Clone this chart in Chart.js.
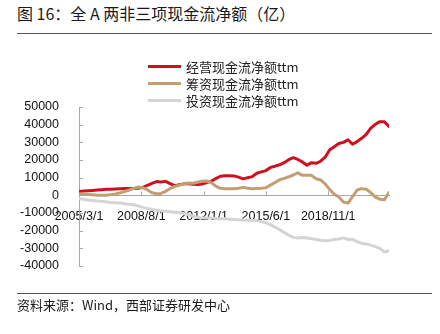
<!DOCTYPE html>
<html>
<head>
<meta charset="utf-8">
<script src="https://cdn.jsdelivr.net/npm/chart.js@4.4.1/dist/chart.umd.min.js"></script>
<style>
    body { margin: 0; background: #fff; }
    #wrap { position: relative; width: 440px; height: 334px; background: #fff; overflow: hidden; }
    #chart { position: absolute; left: 0; top: 0; }
    .title { position: absolute; left: 17px; top: 3px; font: 16px "Noto Sans CJK SC", sans-serif; line-height: 20px; color: #1a1a1a; white-space: nowrap; }
    .rule { position: absolute; left: 17px; width: 415px; height: 1px; background: #555; }
    .source { position: absolute; left: 17px; top: 297px; font: 13px "Noto Sans CJK SC", sans-serif; line-height: 16px; color: #1a1a1a; white-space: nowrap; }
    #legend { position: absolute; left: 148px; top: 58px; font: 13px "Noto Sans CJK SC", sans-serif; color: #222; }
    #legend .item { height: 17px; line-height: 17px; display: flex; align-items: center; white-space: nowrap; }
    #legend .swatch { width: 33px; height: 3px; margin-right: 5px; }
</style>
</head>
<body>
<div id="wrap">
    <div class="title">图 16：全 A 两非三项现金流净额（亿）</div>
    <div class="rule" style="top:33px"></div>
    <canvas id="chart" width="440" height="334"></canvas>
    <div id="legend"></div>
    <div class="rule" style="top:293px"></div>
    <div class="source">资料来源：Wind，西部证券研发中心</div>
</div>
<script>
// 季度数据，起点 2005/3
const startYear = 2005;
const startMonth = 3;
const dates = Array.from({ length: 69 }, (_, i) => {
    const m = startMonth - 1 + i * 3;
    return `${startYear + Math.floor(m / 12)}/${(m % 12) + 1}/1`;
});

const xTickLabels = ['2005/3/1', '2008/8/1', '2012/1/1', '2015/6/1', '2018/11/1'];
const yTicks = { min: -40000, max: 50000, step: 10000 };

const seriesNames = ['经营现金流净额ttm', '筹资现金流净额ttm', '投资现金流净额ttm'];
const seriesColors = ['#d0101e', '#c29e72', '#d4d4d4'];

const operating = [
    2200, 2400, 2600, 2800, 3000, 3200, 3400, 3500, 3600, 3700,
    3800, 3800, 3900, 4000, 4500, 5700, 6800, 7800, 7600, 7900,
    6600, 5500, 6000, 6500, 6600, 6300, 6200, 6400, 7200, 7900,
    9500, 10800, 11100, 11100, 11000, 10300, 9300, 10000, 10600, 12500,
    13300, 14000, 15800, 16500, 17300, 18500, 20200, 21400, 20300, 18900,
    17000, 18500, 18100, 19300, 21600, 25800, 27500, 29300, 30000, 31500,
    28900, 30400, 32300, 34500, 38000, 40200, 41700, 41600, 39000,
];
const financing = [
    800, 700, 500, 300, 100, 0, 100, 400, 800, 1400,
    2200, 3000, 3900, 4700, 4300, 3200, 1500, 900, 1100, 2300,
    3900, 5000, 5800, 6400, 7000, 6800, 7400, 8000, 8100, 7200,
    5200, 4000, 3700, 3700, 3700, 4000, 4500, 4000, 3700, 3900,
    4000, 4300, 5800, 7300, 8800, 9600, 10500, 11500, 12800, 11300,
    11400, 11300, 9400, 8700, 6500, 3200, 600, -1000, -3800, -4400,
    -800, 3000, 3800, 3500, 1500, -1000, -2200, -2500, 1600,
];
const investing = [
    -1900, -2200, -2600, -2900, -3200, -3400, -3700, -4000, -4200, -4400,
    -4700, -5000, -5300, -6000, -6800, -7500, -8000, -8400, -8800, -9000,
    -9300, -9600, -9900, -10200, -11000, -11800, -12400, -12900, -12800, -12900,
    -13100, -13200, -13300, -13500, -13700, -13800, -13900, -14100, -14200, -14300,
    -14800, -15500, -16600, -18000, -19400, -21000, -22500, -23800, -24100, -23900,
    -24200, -24600, -25000, -25400, -25700, -25500, -25000, -24700, -24100, -25000,
    -24900, -26200, -27200, -27500, -28200, -29000, -30000, -32100, -31400,
];

// 日期 -> 距起点的月数，横轴按月线性排布
function monthIndex(label) {
    const [y, m] = label.split('/').map(Number);
    return (y - startYear) * 12 + (m - startMonth);
}

const xTickMonths = xTickLabels.map(monthIndex);
const toPoints = (values) => values.map((v, i) => ({ x: monthIndex(dates[i]), y: v }));

const axisColor = '#a8a8a8';
const tickFont = { family: '"Liberation Sans", Arial, sans-serif', size: 12.5 };

// 刻度线画在轴线内侧
const innerTicks = {
    id: 'innerTicks',
    afterDraw(chart) {
        const { ctx, scales: { x, y } } = chart;
        const y0 = y.getPixelForValue(0);
        ctx.save();
        ctx.strokeStyle = axisColor;
        ctx.lineWidth = 1;
        ctx.beginPath();
        xTickMonths.forEach((m) => {
            if (m === x.min) return;
            const px = Math.round(x.getPixelForValue(m)) + 0.5;
            ctx.moveTo(px, y0);
            ctx.lineTo(px, y0 - 4);
        });
        y.ticks.forEach((t) => {
            const py = Math.round(y.getPixelForValue(t.value)) + 0.5;
            ctx.moveTo(x.left, py);
            ctx.lineTo(x.left + 4, py);
        });
        ctx.stroke();
        ctx.restore();
    },
};

const datasets = [operating, financing, investing].map((values, i) => ({
    label: seriesNames[i],
    data: toPoints(values),
    borderColor: seriesColors[i],
    backgroundColor: seriesColors[i],
    borderWidth: 3,
    pointRadius: 0,
    borderJoinStyle: 'round',
    borderCapStyle: 'round',
    order: 3 - i,
}));

const chart = new Chart(document.getElementById('chart'), {
    type: 'line',
    data: { datasets },
    options: {
        responsive: false,
        animation: false,
        devicePixelRatio: 1,
        layout: { padding: { top: 107, bottom: 68, left: 0, right: 51 } },
        plugins: {
            legend: { display: false },
            tooltip: { enabled: false },
        },
        scales: {
            x: {
                type: 'linear',
                min: 0,
                max: monthIndex(dates[dates.length - 1]),
                position: { y: 0 },
                grid: { display: false },
                border: { color: axisColor, width: 1 },
                afterBuildTicks: (scale) => {
                    scale.ticks = xTickMonths.map((v) => ({ value: v }));
                },
                ticks: {
                    autoSkip: false,
                    maxRotation: 0,
                    padding: 6,
                    color: '#111',
                    font: tickFont,
                    callback: (value) => xTickLabels[xTickMonths.indexOf(value)],
                },
            },
            y: {
                min: yTicks.min,
                max: yTicks.max,
                grid: { display: false },
                border: { color: axisColor, width: 1 },
                afterFit: (scale) => { scale.width = 79; },
                ticks: {
                    stepSize: yTicks.step,
                    autoSkip: false,
                    padding: 12,
                    color: '#111',
                    font: tickFont,
                    callback: (value) => String(value),
                },
            },
        },
    },
    plugins: [innerTicks],
});

// 图例：三行竖排
const legendEl = document.getElementById('legend');
chart.data.datasets.forEach((ds) => {
    const item = document.createElement('div');
    item.className = 'item';
    const swatch = document.createElement('span');
    swatch.className = 'swatch';
    swatch.style.background = ds.borderColor;
    const text = document.createElement('span');
    text.textContent = ds.label;
    item.append(swatch, text);
    legendEl.appendChild(item);
});
</script>
</body>
</html>
